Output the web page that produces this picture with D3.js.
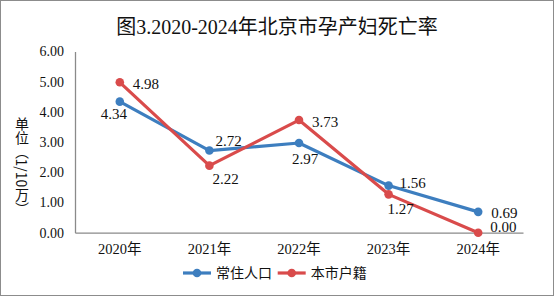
<!DOCTYPE html>
<html>
<head>
<meta charset="utf-8">
<script src="https://cdn.jsdelivr.net/npm/d3@7"></script>
<style>
  html, body { margin: 0; padding: 0; background: #fff; }
  svg { display: block; }
</style>
</head>
<body>
<svg id="chart" width="554" height="296"></svg>
<script>
var years = ["2020年", "2021年", "2022年", "2023年", "2024年"];
var resident = [4.34, 2.72, 2.97, 1.56, 0.69];
var registered = [4.98, 2.22, 3.73, 1.27, 0.00];
var yTicks = [0, 1, 2, 3, 4, 5, 6];

var serif = "'Liberation Serif', 'Times New Roman', 'Noto Sans CJK SC', serif";
var sans = "'Noto Sans CJK SC', 'DejaVu Sans', sans-serif";

var svg = d3.select("#chart");

// frame
svg.append("rect")
    .attr("x", 0.5).attr("y", 0.5)
    .attr("width", 553).attr("height", 295)
    .attr("fill", "#fff").attr("stroke", "#8c8c8c");

// title
svg.append("text")
    .attr("x", 277).attr("y", 34)
    .attr("text-anchor", "middle")
    .attr("font-family", serif).attr("font-size", 20)
    .attr("fill", "#111")
    .text("图3.2020-2024年北京市孕产妇死亡率");

var x = d3.scaleBand().domain(years).range([75, 523]);
var y = d3.scaleLinear().domain([0, 6]).range([232.7, 51.5]);

// y axis
var yAxis = svg.append("g")
    .attr("transform", "translate(75,0)")
    .call(d3.axisLeft(y).tickValues(yTicks).tickSize(0).tickPadding(11).tickFormat(d3.format(".2f")));
yAxis.select(".domain").attr("stroke", "#8a8a8a").attr("stroke-width", 1.3);
yAxis.selectAll("text").attr("font-family", serif).attr("font-size", 14).attr("fill", "#111");

// x axis
var xAxis = svg.append("g")
    .attr("transform", "translate(0,232.7)")
    .call(d3.axisBottom(x).tickSize(0).tickPadding(11));
xAxis.select(".domain").attr("stroke", "#8a8a8a").attr("stroke-width", 1.3);
xAxis.selectAll("text").attr("font-family", serif).attr("font-size", 14.5).attr("fill", "#111");

// y axis title, vertical writing
svg.append("text")
    .attr("x", 22).attr("y", 166)
    .attr("text-anchor", "middle")
    .style("writing-mode", "vertical-rl")
    .attr("font-family", sans).attr("font-size", 14)
    .attr("fill", "#111")
    .text("单位（1/10万）");

var series = [
    { name: "常住人口", values: resident, color: "#3d7ebf",
      offs: [[-6, 12, "middle"], [6, -10, "start"], [6, 16, "middle"], [11, -3, "start"], [13, 1, "start"]] },
    { name: "本市户籍", values: registered, color: "#d94b4b",
      offs: [[13, 1, "start"], [3, 13, "start"], [13, 2, "start"], [-1, 14, "start"], [12, -6, "start"]] }
];

var cx = function(i) { return x(years[i]) + x.bandwidth() / 2; };
var line = d3.line()
    .x(function(d, i) { return cx(i); })
    .y(function(d) { return y(d); });

series.forEach(function(s) {
    var g = svg.append("g");
    g.append("path")
        .attr("d", line(s.values))
        .attr("fill", "none")
        .attr("stroke", s.color).attr("stroke-width", 3.2)
        .attr("stroke-linejoin", "round");
    g.selectAll("circle").data(s.values).enter().append("circle")
        .attr("cx", function(d, i) { return cx(i); })
        .attr("cy", function(d) { return y(d); })
        .attr("r", 4.3)
        .attr("fill", s.color);
});

series.forEach(function(s) {
    svg.append("g").selectAll("text").data(s.values).enter().append("text")
        .attr("x", function(d, i) { return cx(i) + s.offs[i][0]; })
        .attr("y", function(d, i) { return y(d) + s.offs[i][1]; })
        .attr("dy", "0.35em")
        .attr("text-anchor", function(d, i) { return s.offs[i][2]; })
        .attr("font-family", serif).attr("font-size", 15)
        .attr("fill", "#111")
        .text(function(d) { return d3.format(".2f")(d); });
});

// legend
var legendX = [183, 277.7];
series.forEach(function(s, i) {
    var lg = svg.append("g").attr("transform", "translate(" + legendX[i] + ",273)");
    lg.append("line").attr("x1", 0).attr("x2", 28).attr("y1", 0).attr("y2", 0)
        .attr("stroke", s.color).attr("stroke-width", 3.2);
    lg.append("circle").attr("cx", 14).attr("cy", 0).attr("r", 4.3).attr("fill", s.color);
    lg.append("text").attr("x", 33).attr("y", 0).attr("dy", "0.36em")
        .attr("font-family", sans).attr("font-size", 14).attr("fill", "#111")
        .text(s.name);
});
</script>
</body>
</html>
